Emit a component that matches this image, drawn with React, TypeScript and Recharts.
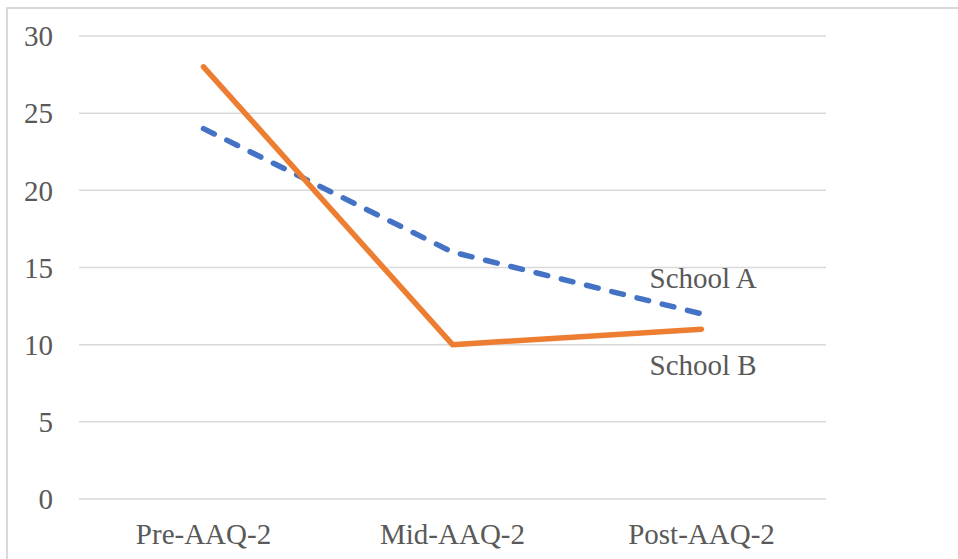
import React from "react";
import { LineChart, Line, XAxis, YAxis, CartesianGrid } from "recharts";

const categories = ["Pre-AAQ-2", "Mid-AAQ-2", "Post-AAQ-2"];
const schoolA = [24, 16, 12];
const schoolB = [28, 10, 11];
const yTicks = [0, 5, 10, 15, 20, 25, 30];

const data = categories.map((name, i) => ({
  name,
  schoolA: schoolA[i],
  schoolB: schoolB[i],
}));

const FONT = '"Liberation Serif", "Times New Roman", serif';
const TEXT = "#595959";
const FS = 29;

const endLabel = (text: string, dx: number, dy: number) => (props: any) => {
  const { x, y, index } = props;
  if (index !== categories.length - 1) return null;
  return (
    <text x={x + dx} y={y + dy} fill={TEXT} fontSize={FS} fontFamily={FONT} textAnchor="start">
      {text}
    </text>
  );
};

export default function App() {
  return (
    <div style={{ position: "absolute", left: 0, top: 0, width: 958, height: 559, background: "#fff", overflow: "hidden" }}>
      <div
        style={{
          position: "absolute",
          left: 6,
          top: 7,
          width: 980,
          height: 580,
          borderLeft: "2px solid #d9d9d9",
          borderTop: "2px solid #d9d9d9",
        }}
      />
      <div style={{ position: "absolute", left: 0, top: 0 }}>
        <LineChart width={958} height={559} data={data} margin={{ top: 36, right: 132, bottom: 0, left: 29 }}>
          <CartesianGrid vertical={false} stroke="#d9d9d9" strokeWidth={1.5} />
          <XAxis
            dataKey="name"
            height={60}
            padding={{ left: 124.5, right: 124.5 }}
            axisLine={false}
            tickLine={false}
            tickSize={0}
            tickMargin={24}
            tick={{ fill: TEXT, fontSize: FS, fontFamily: FONT }}
            interval={0}
          />
          <YAxis
            width={50}
            domain={[0, 30]}
            ticks={yTicks}
            axisLine={false}
            tickLine={false}
            tickSize={0}
            tickMargin={26}
            tick={{ fill: TEXT, fontSize: FS, fontFamily: FONT }}
          />
          <Line
            dataKey="schoolA"
            stroke="#4472C4"
            strokeWidth={5.5}
            strokeDasharray="12 14"
            strokeLinecap="round"
            dot={false}
            isAnimationActive={false}
            label={endLabel("School A", -52, -26)}
          />
          <Line
            dataKey="schoolB"
            stroke="#ED7D31"
            strokeWidth={5.5}
            strokeLinecap="round"
            strokeLinejoin="round"
            dot={false}
            isAnimationActive={false}
            label={endLabel("School B", -52, 46)}
          />
        </LineChart>
      </div>
    </div>
  );
}
